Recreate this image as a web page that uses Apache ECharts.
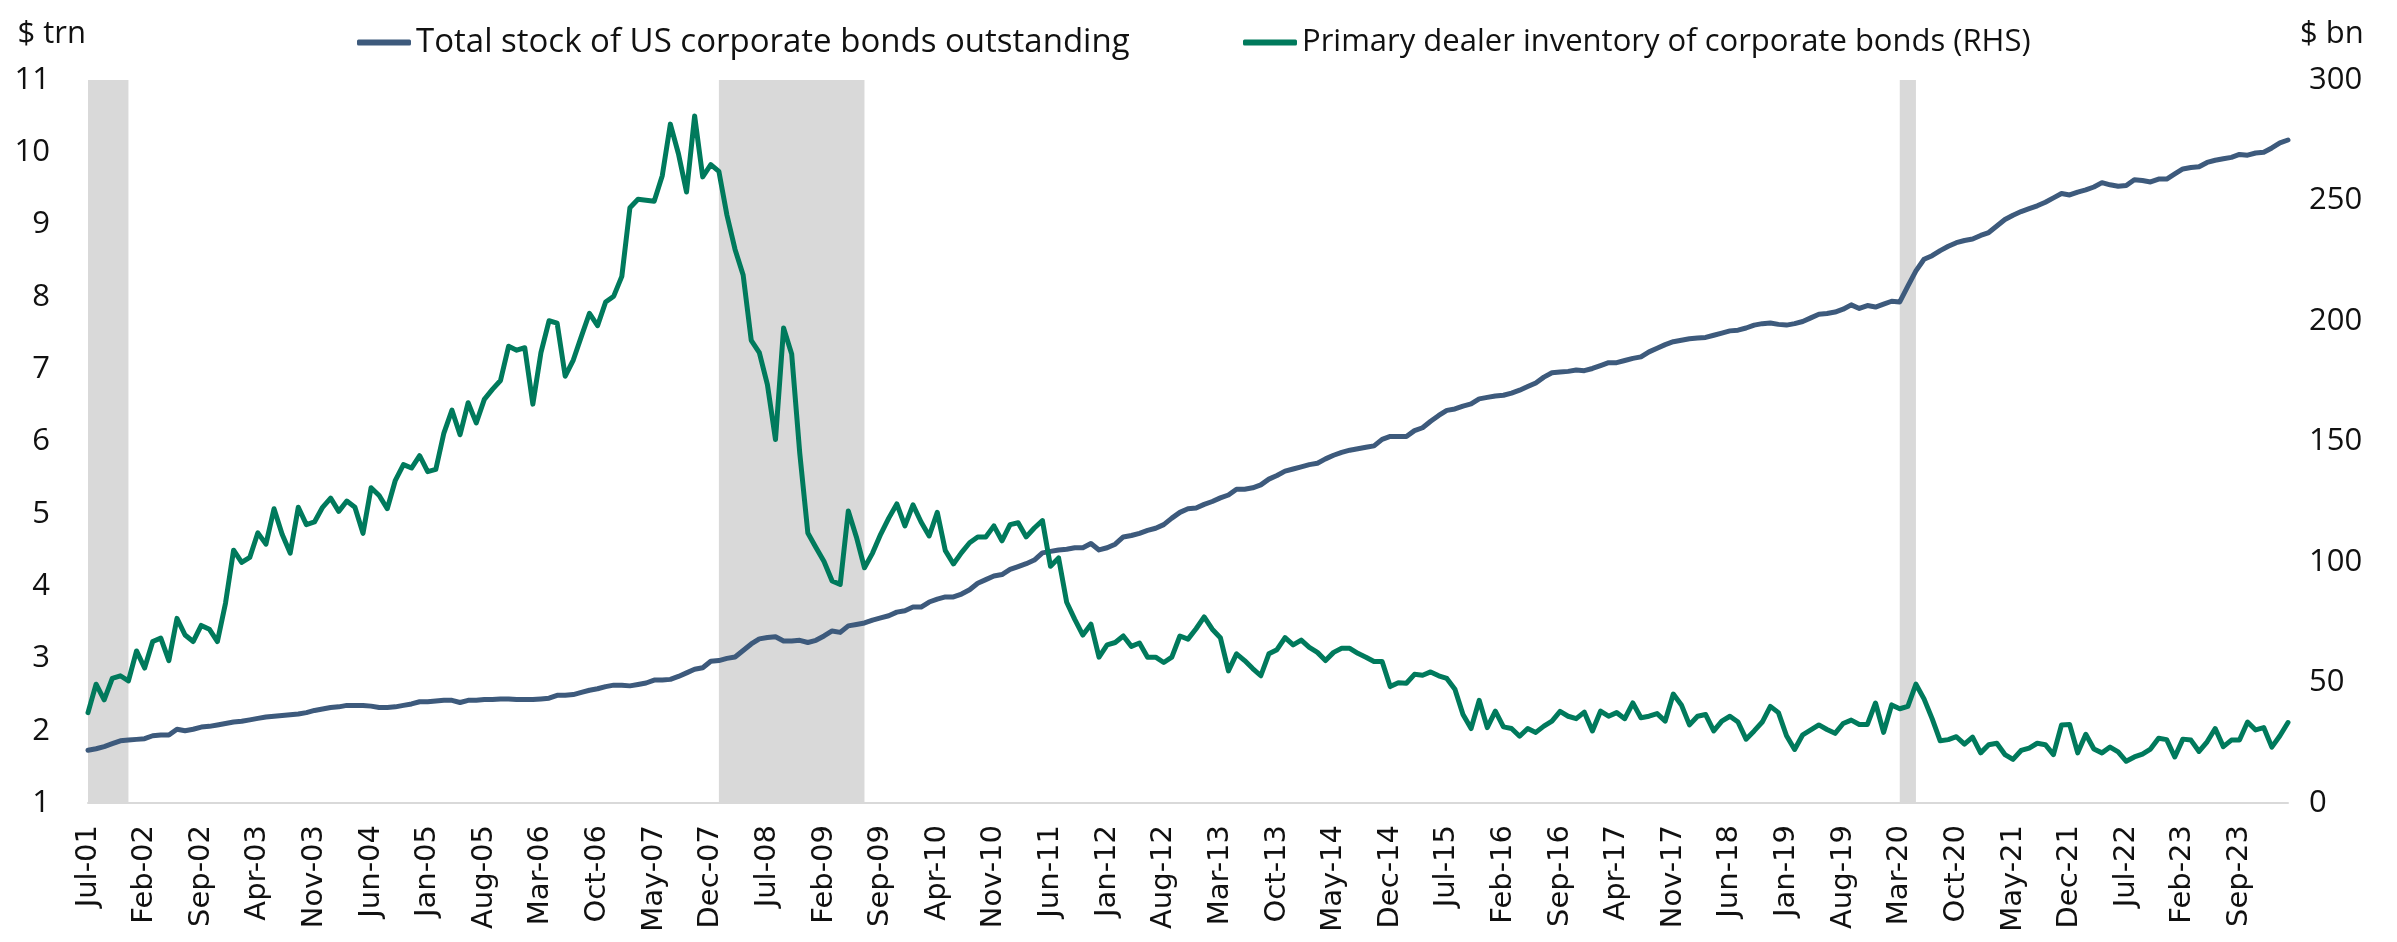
<!DOCTYPE html>
<html>
<head>
<meta charset="utf-8">
<title>US corporate bonds vs dealer inventory</title>
<script src="https://cdn.jsdelivr.net/npm/echarts@6/dist/echarts.min.js"></script>
<style>
    html, body { margin: 0; padding: 0; background: #fff; }
    #lineChart { width: 2397px; height: 942px; }
</style>
</head>
<body>
<div id="lineChart"></div>
<script>
// monthly, Jul-01 .. Mar-24
var startYear = 2001, startMonth = 6, monthCount = 273;
var monthNames = ['Jan', 'Feb', 'Mar', 'Apr', 'May', 'Jun', 'Jul', 'Aug', 'Sep', 'Oct', 'Nov', 'Dec'];

// $ trn (left axis)
var totalStock = [
    1.73, 1.75, 1.78, 1.82, 1.86, 1.87, 1.88, 1.89, 1.93, 1.94,
    1.94, 2.02, 2.00, 2.02, 2.05, 2.06, 2.08, 2.10, 2.12, 2.13,
    2.15, 2.17, 2.19, 2.20, 2.21, 2.22, 2.23, 2.25, 2.28, 2.30,
    2.32, 2.33, 2.35, 2.35, 2.35, 2.34, 2.32, 2.32, 2.33, 2.35,
    2.37, 2.40, 2.40, 2.41, 2.42, 2.42, 2.39, 2.42, 2.42, 2.43,
    2.43, 2.44, 2.44, 2.43, 2.43, 2.43, 2.44, 2.45, 2.49, 2.49,
    2.50, 2.53, 2.56, 2.58, 2.61, 2.63, 2.63, 2.62, 2.64, 2.66,
    2.70, 2.70, 2.71, 2.75, 2.80, 2.85, 2.87, 2.96, 2.97, 3.00,
    3.02, 3.11, 3.20, 3.27, 3.29, 3.30, 3.24, 3.24, 3.25, 3.22,
    3.25, 3.31, 3.38, 3.36, 3.45, 3.47, 3.49, 3.53, 3.56, 3.59,
    3.64, 3.66, 3.71, 3.71, 3.78, 3.82, 3.85, 3.85, 3.89, 3.95,
    4.04, 4.09, 4.14, 4.16, 4.23, 4.27, 4.31, 4.36, 4.46, 4.48,
    4.50, 4.51, 4.53, 4.53, 4.59, 4.50, 4.53, 4.58, 4.68, 4.70,
    4.73, 4.77, 4.80, 4.85, 4.94, 5.02, 5.07, 5.08, 5.13, 5.17,
    5.22, 5.26, 5.34, 5.34, 5.36, 5.40, 5.48, 5.53, 5.59, 5.62,
    5.65, 5.68, 5.70, 5.76, 5.81, 5.85, 5.88, 5.90, 5.92, 5.94,
    6.03, 6.07, 6.07, 6.07, 6.15, 6.19, 6.28, 6.36, 6.43, 6.45,
    6.49, 6.52, 6.59, 6.61, 6.63, 6.64, 6.67, 6.71, 6.76, 6.81,
    6.89, 6.95, 6.96, 6.97, 6.99, 6.98, 7.01, 7.05, 7.09, 7.09,
    7.12, 7.15, 7.17, 7.24, 7.29, 7.34, 7.38, 7.40, 7.42, 7.43,
    7.44, 7.47, 7.50, 7.53, 7.54, 7.57, 7.61, 7.63, 7.64, 7.62,
    7.61, 7.63, 7.66, 7.71, 7.76, 7.77, 7.79, 7.83, 7.89, 7.84,
    7.88, 7.86, 7.90, 7.94, 7.93, 8.15, 8.36, 8.52, 8.57, 8.64,
    8.70, 8.75, 8.78, 8.80, 8.85, 8.89, 8.98, 9.07, 9.13, 9.18,
    9.22, 9.26, 9.31, 9.37, 9.43, 9.41, 9.45, 9.48, 9.52, 9.58,
    9.55, 9.53, 9.54, 9.62, 9.61, 9.59, 9.63, 9.63, 9.70, 9.77,
    9.79, 9.80, 9.86, 9.89, 9.91, 9.93, 9.97, 9.96, 9.99, 10.00,
    10.06, 10.13, 10.17
];

// $ bn (right axis)
var dealerInventory = [
    37.5, 49.3, 42.8, 51.7, 52.8, 50.7, 63.1, 56.0, 67.0, 68.4,
    59.1, 76.6, 69.7, 67.0, 73.7, 72.1, 67.0, 82.9, 104.9, 99.8,
    101.9, 112.1, 107.4, 122.1, 111.5, 103.7, 122.7, 115.5, 116.6, 122.7,
    126.5, 121.0, 125.3, 122.7, 111.9, 130.8, 127.6, 122.1, 133.9, 140.4,
    139.0, 144.1, 137.5, 138.4, 153.5, 163.0, 152.8, 166.1, 157.7, 167.5,
    171.6, 175.3, 189.5, 187.9, 188.9, 165.5, 186.9, 200.1, 199.1, 177.1,
    183.8, 193.6, 203.2, 198.1, 207.9, 210.3, 218.5, 247.0, 250.5, 250.1,
    249.7, 260.3, 281.7, 269.4, 253.5, 285.1, 259.8, 264.9, 262.1, 243.9,
    229.7, 219.1, 192.0, 186.9, 173.6, 150.8, 197.1, 186.3, 145.1, 112.0,
    106.0, 100.2, 92.1, 90.7, 121.2, 110.4, 97.6, 103.7, 111.5, 118.2,
    124.1, 115.0, 123.7, 116.6, 110.8, 120.6, 104.7, 99.2, 103.9, 108.0,
    110.4, 110.4, 115.0, 108.8, 115.5, 116.3, 110.4, 114.1, 117.2, 98.2,
    101.7, 83.3, 76.2, 69.7, 74.2, 60.5, 65.6, 66.6, 69.3, 65.0,
    66.4, 60.5, 60.5, 58.3, 60.5, 69.3, 68.0, 72.3, 77.2, 72.1,
    68.6, 54.8, 61.9, 59.1, 55.8, 52.8, 61.9, 63.6, 68.6, 65.6,
    67.6, 64.6, 62.5, 59.1, 62.5, 64.2, 64.2, 62.1, 60.5, 58.7,
    58.7, 48.3, 49.9, 49.7, 53.4, 53.0, 54.4, 52.8, 51.7, 47.2,
    36.7, 30.9, 42.6, 31.3, 38.1, 31.6, 30.9, 27.7, 30.9, 29.3,
    31.9, 34.0, 38.0, 36.0, 35.0, 37.7, 29.9, 38.1, 36.0, 37.5,
    35.0, 41.5, 35.4, 36.0, 37.1, 34.0, 45.2, 40.7, 32.4, 36.0,
    36.7, 29.9, 34.0, 36.0, 33.6, 26.5, 29.9, 33.6, 40.1, 37.5,
    27.9, 22.2, 28.3, 30.3, 32.4, 30.5, 28.9, 33.0, 34.4, 32.6,
    32.6, 41.5, 29.3, 40.7, 39.1, 40.1, 49.3, 43.2, 35.0, 25.8,
    26.3, 27.5, 24.4, 27.3, 20.8, 24.2, 24.8, 20.1, 18.1, 21.8,
    22.8, 24.8, 24.2, 20.1, 32.4, 32.6, 20.8, 28.5, 22.4, 20.8,
    23.2, 21.2, 17.3, 19.1, 20.3, 22.4, 26.9, 26.3, 19.1, 26.5,
    26.1, 21.4, 25.4, 30.9, 23.4, 26.1, 26.1, 33.6, 30.3, 31.3,
    23.2, 27.9, 33.4
];

// recession shading [from, to]
var recessions = [['Jul-01', 'Dec-01'], ['Jan-08', 'Jul-09'], ['Mar-20', 'May-20']];

var months = [];
for (var i = 0; i < monthCount; i++) {
    var m = (startMonth + i) % 12;
    var y = startYear + Math.floor((startMonth + i) / 12);
    months.push(monthNames[m] + '-' + String(y % 100).padStart(2, '0'));
}

var seriesNames = ['Total stock of US corporate bonds outstanding', 'Primary dealer inventory of corporate bonds (RHS)'];
var blue = '#3d5a7c';
var green = '#007a5c';
var textFont = 'Open Sans';

var myChart = echarts.init(document.getElementById('lineChart'));
var option = {
    animation: false,
    backgroundColor: '#fff',
    legend: [
        {
            data: [seriesNames[0]],
            left: 352,
            top: 21,
            icon: 'roundRect',
            itemWidth: 54,
            itemHeight: 6,
            itemGap: 0,
            textStyle: {fontFamily: textFont, fontSize: 33, color: '#111'}
        },
        {
            data: [seriesNames[1]],
            left: 1238,
            top: 22,
            icon: 'roundRect',
            itemWidth: 54,
            itemHeight: 6,
            textStyle: {fontFamily: textFont, fontSize: 31, color: '#111'}
        }
    ],
    grid: {
        left: 88,
        right: 109,
        top: 80,
        bottom: 139
    },
    xAxis: {
        type: 'category',
        boundaryGap: false,
        data: months,
        axisLine: {lineStyle: {color: '#d9d9d9', width: 2}},
        axisTick: {show: false},
        axisLabel: {
            interval: 6,
            rotate: 90,
            margin: 22,
            fontFamily: 'DejaVu Sans',
            fontSize: 29,
            color: '#111'
        },
        splitLine: {show: false}
    },
    yAxis: [
        {
            type: 'value',
            min: 1,
            max: 11,
            interval: 1,
            name: '$ trn',
            nameLocation: 'end',
            nameGap: 30,
            nameTextStyle: {fontFamily: textFont, fontSize: 31, color: '#111', align: 'right', padding: [0, 2, 0, 0]},
            axisLine: {show: false},
            axisTick: {show: false},
            splitLine: {show: false},
            axisLabel: {margin: 38, fontFamily: textFont, fontSize: 31, color: '#111'}
        },
        {
            type: 'value',
            min: 0,
            max: 300,
            interval: 50,
            name: '$ bn',
            nameLocation: 'end',
            nameGap: 30,
            nameTextStyle: {fontFamily: textFont, fontSize: 31, color: '#111', align: 'left', padding: [0, 0, 0, 12]},
            axisLine: {show: false},
            axisTick: {show: false},
            splitLine: {show: false},
            axisLabel: {margin: 21, fontFamily: textFont, fontSize: 31, color: '#111'}
        }
    ],
    series: [
        {
            name: 'recession',
            type: 'line',
            data: [],
            z: 1,
            markArea: {
                silent: true,
                itemStyle: {color: '#d9d9d9'},
                data: recessions.map(function (r) {
                    return [{xAxis: r[0]}, {xAxis: r[1]}];
                })
            }
        },
        {
            name: seriesNames[0],
            type: 'line',
            yAxisIndex: 0,
            data: totalStock,
            showSymbol: false,
            z: 3,
            itemStyle: {color: blue},
            lineStyle: {color: blue, width: 5, cap: 'round', join: 'round'}
        },
        {
            name: seriesNames[1],
            type: 'line',
            yAxisIndex: 1,
            data: dealerInventory,
            showSymbol: false,
            z: 4,
            itemStyle: {color: green},
            lineStyle: {color: green, width: 5, cap: 'round', join: 'round'}
        }
    ]
};
myChart.setOption(option);
window.addEventListener('resize', function () {
    myChart.resize();
});
</script>
</body>
</html>
